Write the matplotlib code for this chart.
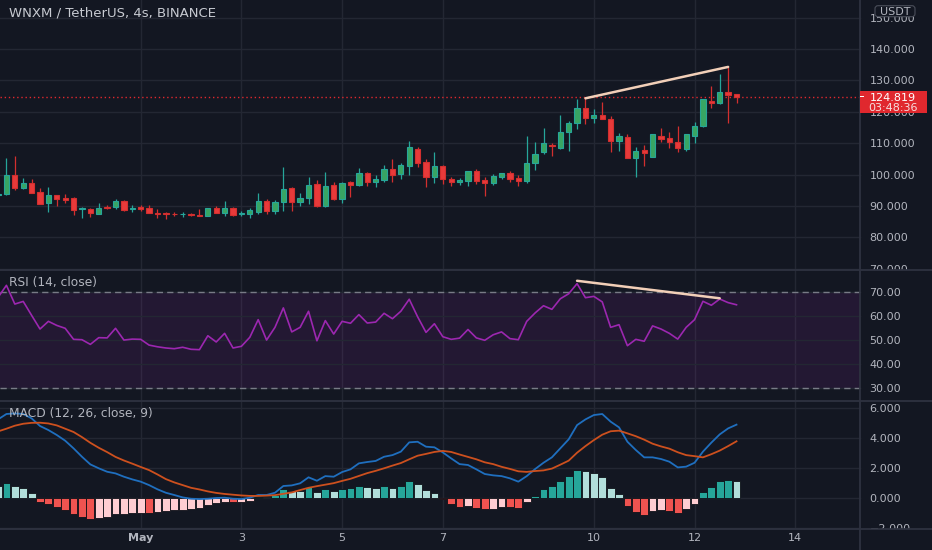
import numpy as np
import pandas as pd
import matplotlib
matplotlib.use("Agg")
import matplotlib.pyplot as plt
from matplotlib.patches import Rectangle, FancyBboxPatch
from matplotlib.lines import Line2D
from matplotlib.transforms import blended_transform_factory, IdentityTransform

# 4h candles, WNXM/USDT
times = pd.date_range("2021-04-28 04:00", periods=89, freq="4h")
opens = [93.4, 93.8, 99.9, 95.8, 97.2, 94.4, 90.9, 93.5, 92.4, 92.4,
         88.9, 89.0, 87.4, 89.7, 89.6, 91.7, 89.0, 89.6, 89.5, 87.9,
         87.7, 87.6, 87.3, 87.4, 87.1, 86.9, 89.3, 87.8, 89.3, 87.3,
         87.5, 88.0, 91.7, 88.4, 91.2, 95.6, 91.2, 92.4, 97.0, 90.0,
         96.6, 92.2, 97.5, 96.6, 100.4, 97.7, 98.3, 101.8, 100.2, 102.8,
         108.0, 103.9, 99.1, 102.8, 98.6, 97.8, 98.1, 101.1, 98.3, 97.2,
         99.3, 100.6, 98.8, 98.1, 103.6, 107.1, 109.4, 108.4, 113.7, 116.5,
         121.3, 118.1, 119.0, 117.6, 110.8, 111.9, 105.4, 107.8, 105.7, 112.2,
         111.6, 110.3, 108.1, 112.4, 115.6, 123.5, 122.7, 126.4, 125.6]
highs = [94.5, 105.2, 105.9, 98.8, 98.6, 95.6, 96.0, 93.6, 93.7, 92.9,
         89.8, 89.3, 91.0, 90.3, 92.2, 92.0, 90.3, 90.3, 90.3, 89.0,
         88.2, 88.1, 88.0, 87.7, 89.0, 89.4, 90.0, 91.6, 89.6, 88.5,
         89.3, 94.2, 92.2, 92.0, 102.3, 96.2, 94.2, 99.3, 98.3, 100.7,
         97.6, 97.6, 97.9, 102.0, 100.9, 99.9, 103.1, 105.0, 103.6, 110.7,
         108.7, 104.9, 107.2, 103.0, 99.2, 99.0, 101.3, 101.8, 99.2, 100.2,
         100.4, 101.1, 99.9, 112.4, 110.5, 114.9, 110.0, 119.0, 117.0, 124.0,
         124.3, 120.8, 123.0, 118.7, 113.3, 113.0, 108.7, 109.4, 112.9, 114.9,
         113.7, 115.5, 113.0, 116.9, 124.2, 128.2, 131.9, 134.4, 125.7]
lows = [93.0, 93.5, 95.1, 95.3, 94.0, 90.5, 88.2, 90.1, 91.1, 87.1,
        86.3, 86.6, 87.3, 88.9, 89.0, 88.3, 88.2, 88.3, 87.9, 86.3,
        85.9, 86.8, 86.6, 86.8, 86.8, 86.9, 87.9, 86.9, 86.8, 86.8,
        86.3, 87.6, 87.6, 87.6, 88.5, 88.5, 90.0, 90.6, 89.8, 89.8,
        92.0, 91.05, 93.0, 96.3, 96.4, 96.2, 97.8, 97.7, 98.5, 99.9,
        102.3, 96.2, 97.4, 97.0, 96.4, 96.8, 96.5, 97.1, 93.3, 96.6,
        98.5, 97.7, 96.4, 97.4, 101.5, 106.7, 106.0, 108.0, 107.6, 114.4,
        116.1, 116.5, 117.6, 107.3, 107.6, 105.4, 99.1, 102.8, 105.6, 110.5,
        108.6, 107.3, 107.4, 110.0, 115.3, 121.1, 122.5, 116.3, 122.9]
closes = [93.9, 99.9, 95.8, 97.4, 94.2, 90.6, 93.5, 92.2, 91.8, 88.7,
          89.3, 87.8, 89.5, 89.3, 91.7, 88.7, 89.4, 89.1, 87.9, 87.5,
          87.3, 87.3, 87.5, 87.0, 86.9, 89.3, 87.9, 89.5, 87.1, 87.7,
          88.7, 91.7, 88.4, 91.3, 95.5, 91.2, 92.4, 96.7, 90.0, 96.5,
          92.3, 97.4, 96.7, 100.4, 97.7, 98.7, 101.8, 100.0, 103.0, 108.7,
          103.8, 99.1, 102.8, 98.5, 97.6, 98.2, 101.1, 98.1, 97.4, 99.6,
          100.4, 98.5, 98.1, 103.6, 106.6, 110.0, 109.0, 113.6, 116.5, 121.3,
          118.1, 119.0, 117.6, 110.8, 112.3, 105.4, 107.5, 106.8, 112.8, 111.4,
          110.3, 108.4, 112.9, 115.5, 124.0, 122.7, 126.4, 125.4, 124.819]

rsi = [67.9, 72.9, 65.1, 66.2, 60.4, 54.7, 57.9, 56.2, 55.0, 50.4,
       50.25, 48.3, 51.1, 51.0, 55.0, 50.1, 50.5, 50.4, 48.0, 47.3,
       46.8, 46.5, 47.1, 46.25, 46.1, 51.9, 49.3, 52.9, 46.8, 47.5,
       51.25, 58.6, 50.1, 55.4, 63.5, 53.5, 55.4, 62.1, 49.8, 58.2,
       52.6, 57.9, 57.1, 60.7, 57.2, 57.6, 61.25, 59.0, 62.1, 67.1,
       59.8, 53.3, 56.9, 51.5, 50.4, 50.9, 54.5, 51.0, 50.0, 52.3,
       53.5, 50.7, 50.25, 57.9, 61.4, 64.4, 62.9, 67.3, 69.4, 73.6,
       67.75, 68.3, 66.0, 55.4, 56.5, 47.75, 50.4, 49.6, 56.0, 54.7,
       52.9, 50.5, 55.4, 58.6, 66.25, 64.6, 67.2, 65.7, 64.8]

macd = [5.22, 5.58, 5.62, 5.58, 5.29, 4.78, 4.51, 4.18, 3.80, 3.29,
        2.73, 2.22, 1.96, 1.73, 1.62, 1.40, 1.22, 1.07, 0.84, 0.56,
        0.33, 0.18, 0.02, -0.07, -0.09, -0.07, -0.02, 0.00, -0.07, -0.09,
        0.00, 0.18, 0.18, 0.33, 0.78, 0.82, 0.96, 1.36, 1.13, 1.44,
        1.40, 1.71, 1.89, 2.29, 2.38, 2.45, 2.73, 2.84, 3.07, 3.69,
        3.73, 3.40, 3.36, 3.02, 2.62, 2.24, 2.18, 1.89, 1.58, 1.49,
        1.44, 1.29, 1.07, 1.44, 1.91, 2.33, 2.69, 3.29, 3.89, 4.84,
        5.22, 5.51, 5.58, 5.07, 4.69, 3.73, 3.18, 2.69, 2.69, 2.58,
        2.40, 2.02, 2.07, 2.33, 3.07, 3.67, 4.22, 4.62, 4.87]
signal = [4.42, 4.60, 4.80, 4.93, 4.99, 5.00, 4.95, 4.82, 4.60, 4.38,
          4.04, 3.66, 3.33, 3.04, 2.72, 2.48, 2.27, 2.05, 1.84, 1.55,
          1.24, 1.02, 0.84, 0.66, 0.55, 0.42, 0.32, 0.25, 0.20, 0.15,
          0.12, 0.12, 0.14, 0.17, 0.26, 0.35, 0.51, 0.66, 0.77, 0.87,
          0.97, 1.12, 1.26, 1.45, 1.64, 1.79, 1.96, 2.14, 2.31, 2.56,
          2.80, 2.92, 3.05, 3.12, 3.05, 2.88, 2.72, 2.56, 2.36, 2.24,
          2.06, 1.92, 1.76, 1.72, 1.78, 1.82, 1.94, 2.20, 2.47, 3.00,
          3.44, 3.84, 4.20, 4.43, 4.47, 4.29, 4.10, 3.87, 3.60, 3.42,
          3.27, 3.03, 2.84, 2.77, 2.69, 2.90, 3.14, 3.44, 3.76]
hist = [0.78, 1.00, 0.80, 0.65, 0.31, -0.27, -0.44, -0.64, -0.82, -1.11,
        -1.31, -1.44, -1.37, -1.31, -1.08, -1.06, -1.04, -1.00, -1.02, -0.96,
        -0.91, -0.84, -0.80, -0.73, -0.67, -0.49, -0.36, -0.27, -0.31, -0.30,
        -0.20, 0.06, 0.04, 0.18, 0.56, 0.47, 0.45, 0.69, 0.36, 0.56,
        0.44, 0.56, 0.62, 0.80, 0.71, 0.67, 0.76, 0.67, 0.76, 1.11,
        0.91, 0.49, 0.31, -0.11, -0.44, -0.63, -0.53, -0.67, -0.76, -0.73,
        -0.60, -0.64, -0.69, -0.31, 0.11, 0.56, 0.76, 1.09, 1.42, 1.82,
        1.78, 1.67, 1.38, 0.64, 0.22, -0.56, -0.93, -1.18, -0.91, -0.82,
        -0.87, -1.00, -0.76, -0.44, 0.38, 0.71, 1.09, 1.18, 1.11]

date_ticks = pd.to_datetime(["2021-05-01", "2021-05-03", "2021-05-05", "2021-05-07",
                             "2021-05-10", "2021-05-12", "2021-05-14"])
date_labels = ["May", "3", "5", "7", "10", "12", "14"]
price_ticks = [70, 80, 90, 100, 110, 120, 130, 140, 150]
rsi_ticks = [30, 40, 50, 60, 70]
macd_ticks = [-2, 0, 2, 4, 6]
price_trend_idx = [70, 87]
price_trend_val = [124.3, 134.3]
rsi_trend_idx = [69, 86]
rsi_trend_val = [74.8, 67.5]
last_price = 124.819
countdown = "03:48:36"

BG = "#131722"
GRID = "#232733"
SEP = "#2e3240"
TXT = "#b2b5be"
UP_FILL, UP_LINE = "#38a563", "#26a69a"
DN_FILL, DN_LINE = "#e83a3a", "#d32f2f"
TREND = "#f2cfb8"
LAST = "#e0282e"

W, H = 932, 550
PX_DAY, X_MAY1 = 50.35, 140.7   # time axis: pixels per day, pixel of May 1
PLOT_R = 859.5 / W              # right edge of the plotting area
LAB_X = 869.5 / W

t0 = pd.Timestamp("2021-05-01")
x = ((times - t0) / pd.Timedelta("1D")).to_numpy()
xt = ((date_ticks - t0) / pd.Timedelta("1D")).to_numpy()
o, h, l, c = map(np.array, (opens, highs, lows, closes))

fig = plt.figure(figsize=(W / 100, H / 100), dpi=100, facecolor=BG)
px = IdentityTransform()


def pane(top, bottom, ylim):
    a = fig.add_axes([0, 1 - bottom / H, 1, (bottom - top) / H])
    a.set_facecolor(BG)
    a.set_xlim(-X_MAY1 / PX_DAY, (W - X_MAY1) / PX_DAY)
    a.set_ylim(*ylim)
    for s in a.spines.values():
        s.set_visible(False)
    a.set_xticks([])
    a.set_yticks([])
    for v in xt:
        a.axvline(v, color=GRID, lw=1, zorder=0)
    return a


def scale_labels(a, ticks, fmt):
    tr = blended_transform_factory(a.transAxes, a.transData)
    for v in ticks:
        a.axhline(v, xmax=PLOT_R, color=GRID, lw=1, zorder=0)
        a.text(LAB_X, v, fmt.format(v).replace("-", "\u2212"), transform=tr,
               color=TXT, fontsize=8, ha="left", va="center_baseline", clip_on=True)


ax = pane(0, 270, (69.62, 155.61))
ax_rsi = pane(270, 400.5, (24.92, 79.29))
ax_macd = pane(400.5, 528.5, (-2.053, 6.48))

# --- price pane ---
scale_labels(ax, price_ticks, "{:.3f}")
up = c >= o
line_col = np.where(up, UP_LINE, DN_LINE)
ax.vlines(x, l, h, colors=list(line_col), lw=0.9, zorder=2)
ax.bar(x, np.abs(c - o), bottom=np.minimum(o, c), width=0.105,
       color=list(np.where(up, UP_FILL, DN_FILL)), edgecolor=list(line_col),
       linewidth=0.8, zorder=3)
ax.axhline(last_price, xmax=PLOT_R, color=LAST, ls=(0, (1, 2)), lw=1, zorder=1)
ax.plot(x[price_trend_idx], price_trend_val, color=TREND, lw=1.8,
        solid_capstyle="round", zorder=4)

# last price tag on the price scale
yp = ax.transData.transform((0, last_price))[1]
fig.add_artist(Rectangle((859.5, yp - 16), 67.5, 22, transform=px,
                         fc=LAST, ec="none", zorder=5))
fig.add_artist(Rectangle((859.5, yp - 0.8), 4, 1.6, transform=px,
                         fc="white", ec="none", zorder=6))
fig.text(893, yp, f"{last_price:.3f}", transform=px, color="white", fontsize=8,
         ha="center", va="center_baseline", zorder=7)
fig.text(893, yp - 10.8, countdown, transform=px, color="#f6dede", fontsize=8,
         ha="center", va="center_baseline", zorder=7)

fig.add_artist(FancyBboxPatch((875, H - 16.7), 40, 11, boxstyle="round,pad=0,rounding_size=3",
                              transform=px, fc=BG, ec="#4a4e5a", lw=0.8, zorder=5))
fig.text(895, H - 11.2, "USDT", transform=px, color=TXT, fontsize=8, ha="center",
         va="center_baseline", zorder=6)
fig.text(9.3, H - 16, "WNXM / TetherUS, 4s, BINANCE", transform=px, color="#c7cad1",
         fontsize=9.5, va="baseline")

# --- RSI pane ---
ax_rsi.axhspan(30, 70, xmax=PLOT_R, color="#9c27b0", alpha=0.12, lw=0, zorder=0)
scale_labels(ax_rsi, rsi_ticks, "{:.2f}")
for v in (30, 70):
    ax_rsi.axhline(v, xmax=PLOT_R, color="#787b86", lw=1, ls=(0, (4.5, 3)), zorder=1)
ax_rsi.plot(x, rsi, color="#9c27b0", lw=1.2, zorder=3)
ax_rsi.plot(x[rsi_trend_idx], rsi_trend_val, color=TREND, lw=1.8,
            solid_capstyle="round", zorder=4)
fig.text(9.3, H - 286.3, "RSI (14, close)", transform=px, color=TXT, fontsize=8.8,
         va="baseline")

# --- MACD pane ---
scale_labels(ax_macd, macd_ticks, "{:.3f}")
hcol = []
for i, v in enumerate(hist):
    prev = hist[i - 1] if i else v
    if v >= 0:
        hcol.append("#26a69a" if v > prev else "#b2dfdb")
    else:
        hcol.append("#ef5350" if v < prev else "#ffcdd2")
ax_macd.bar(x, hist, width=0.155, color=hcol, edgecolor="#0e1118", linewidth=0.6, zorder=2)
ax_macd.plot(x, macd, color="#1f6fbf", lw=1.3, zorder=3)
ax_macd.plot(x, signal, color="#cd501e", lw=1.3, zorder=3)
fig.text(9.3, H - 416.7, "MACD (12, 26, close, 9)", transform=px, color=TXT,
         fontsize=8.8, va="baseline")

ax_macd.set_xticks(xt)
ax_macd.set_xticklabels(date_labels)
ax_macd.tick_params(axis="x", length=0, pad=3.5, labelsize=8, labelcolor=TXT)
ax_macd.get_xticklabels()[0].set_fontweight("bold")

# pane separators
for yy in (270, 400.5, 528.5):
    fig.add_artist(Line2D([0, 1], [1 - yy / H] * 2, color=SEP, lw=1.3))
fig.add_artist(Line2D([PLOT_R] * 2, [0, 1], color=SEP, lw=1.3))

fig.savefig("out.png", dpi=100, facecolor=BG)
